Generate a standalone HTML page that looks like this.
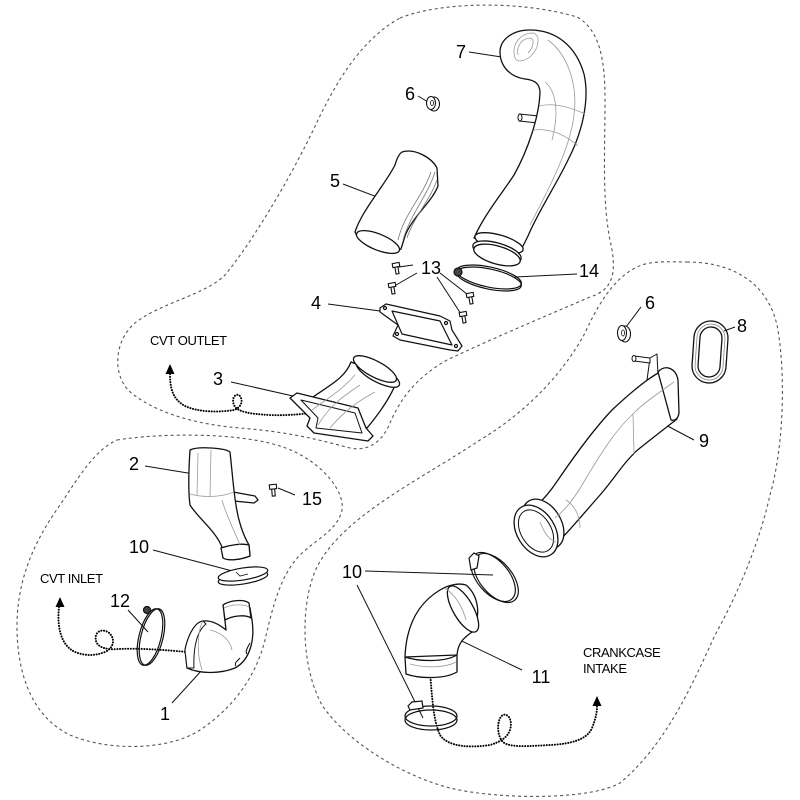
<!DOCTYPE html>
<html><head><meta charset="utf-8"><style>
html,body{margin:0;padding:0;background:#fff;}
svg{display:block;}
text{font-family:"Liberation Sans",Arial,sans-serif;fill:#000;}
.n{font-size:18px;text-anchor:middle;}
.t{font-size:13px;letter-spacing:-0.4px;}
</style></head><body>
<svg width="800" height="800" viewBox="0 0 800 800" xmlns="http://www.w3.org/2000/svg">
<rect width="800" height="800" fill="#fff"/>
<!-- dashed region boundaries -->
<g fill="none" stroke="#555" stroke-width="1.1" stroke-dasharray="3 3">
<path d="M 400 18 C 440 2 520 0 577 17 C 600 30 605 60 605 100 C 605 150 602 200 610 240 C 618 275 612 290 590 297 C 560 310 500 335 447 360 C 415 378 400 400 390 423 C 383 440 370 452 350 448 C 320 440 290 432 240 428 C 190 424 150 410 128 390 C 112 372 115 340 135 323 C 160 303 205 295 225 275 C 250 245 290 180 318 120 C 335 85 360 40 400 18 Z"/>
<path d="M 117 440 C 160 433 240 432 283 447 C 320 460 345 490 342 510 C 338 530 315 540 300 555 C 280 575 272 610 265 640 C 255 680 230 710 200 730 C 170 750 110 752 70 735 C 35 718 18 680 17 630 C 16 580 35 540 60 505 C 80 475 95 450 117 440 Z"/>
<path d="M 687 262 C 735 262 770 285 778 330 C 786 380 783 450 770 495 C 760 540 740 590 715 635 C 690 690 665 745 620 783 C 590 800 500 800 450 788 C 400 775 345 740 322 705 C 300 665 300 600 318 565 C 345 515 420 480 480 440 C 530 410 565 370 585 333 C 600 300 620 268 650 263 C 665 261 675 262 687 262 Z"/>
</g>

<!-- dotted flow arrows -->
<g fill="none" stroke="#000" stroke-width="2" stroke-dasharray="0.1 2.6" stroke-linecap="round">
<path d="M 170 374 C 170 387 172 399 185 406 C 200 413 222 412 234 410 C 240 408 244 402 240 396 C 236 392 231 398 234 405 C 237 412 250 414 270 415 C 290 416 310 413 322 412"/>
<path d="M 59 607 C 57 625 60 645 75 652 C 85 656 95 656 105 652 C 114 648 116 638 108 632 C 100 628 94 633 96 641 C 98 648 108 650 118 649 C 140 648 165 650 187 652"/>
<path d="M 430 672 C 432 695 433 720 440 735 C 448 747 470 748 490 745 C 500 742 507 738 510 730 C 513 720 508 713 503 715 C 497 718 496 735 503 742 C 510 748 530 746 550 745 C 570 744 587 740 592 728 C 596 718 597 712 597 706"/>
</g>
<g fill="#000">
<polygon points="170,364 165.5,374 174.5,374"/>
<polygon points="60,597 55.5,607 64.5,607"/>
<polygon points="597,696 592.5,706 601.5,706"/>
</g>

<!-- leader lines -->
<g stroke="#111" stroke-width="1" fill="none">
<line x1="469" y1="52" x2="508" y2="58"/>
<line x1="418" y1="96" x2="428" y2="102"/>
<line x1="343" y1="184" x2="385" y2="200"/>
<line x1="413" y1="265" x2="399" y2="267"/>
<line x1="417" y1="273" x2="396" y2="285"/>
<line x1="440" y1="273" x2="467" y2="294"/>
<line x1="437" y1="277" x2="461" y2="314"/>
<line x1="577" y1="274" x2="515" y2="277"/>
<line x1="328" y1="304" x2="380" y2="311"/>
<line x1="231" y1="382" x2="293" y2="396"/>
<line x1="145" y1="466" x2="200" y2="475"/>
<line x1="278" y1="488" x2="295" y2="495"/>
<line x1="153" y1="550" x2="240" y2="573"/>
<line x1="128" y1="610" x2="148" y2="632"/>
<line x1="172" y1="703" x2="202" y2="670"/>
<line x1="641" y1="307" x2="626" y2="327"/>
<line x1="735" y1="327" x2="724" y2="331"/>
<line x1="660" y1="422" x2="694" y2="440"/>
<line x1="365" y1="571" x2="493" y2="575"/>
<line x1="357" y1="585" x2="423" y2="718"/>
<line x1="443" y1="632" x2="522" y2="670"/>
</g>

<!-- PART 7 -->
<g fill="#fff" stroke="#111" stroke-width="1.3" stroke-linejoin="round">
<path d="M 519 114 L 539 116 L 538 123 L 519 121 Z" stroke-width="1"/>
<ellipse cx="520" cy="117.5" rx="2" ry="3.5" stroke-width="1"/>
<path d="M 500 52 C 500 40 512 30 530 30 C 556 30 576 46 584 74 C 590 100 582 133 568 160 C 556 185 538 212 528 236 L 522 248 L 474 238 C 484 215 503 192 514 175 C 528 150 539 117 540 93 C 540 83 534 80 525 79 C 510 77 500 66 500 52 Z"/>
<ellipse cx="499" cy="243" rx="25" ry="8" transform="rotate(16 499 243)"/>
<ellipse cx="497" cy="252" rx="25" ry="9" transform="rotate(16 497 252)"/>
<ellipse cx="497" cy="255" rx="24" ry="9" transform="rotate(16 497 255)"/>
</g>
<g fill="none" stroke="#999" stroke-width="0.8">
<path d="M 515 58 C 511 45 520 33 533 33 C 541 35 539 48 531 56 C 525 61 517 63 515 58 Z"/>
<path d="M 518 55 C 516 46 522 38 531 38 C 535 40 533 48 528 53"/>
<path d="M 539 106 C 555 102 572 108 585 114"/>
<path d="M 534 130 C 550 128 566 135 578 146"/>
<path d="M 548 40 C 568 55 578 85 574 115 C 570 150 548 190 530 225"/>
<path d="M 545 82 C 555 90 560 110 552 140"/>
</g>

<!-- PART 6 top -->
<g stroke="#111" stroke-width="1.1" fill="#fff">
<ellipse cx="434" cy="104" rx="5.5" ry="7"/>
<ellipse cx="431" cy="103" rx="4.5" ry="6.5"/>
<ellipse cx="432" cy="103" rx="1.5" ry="2.5" fill="none" stroke-width="0.8"/>
</g>

<!-- PART 5 -->
<g fill="#fff" stroke="#111" stroke-width="1.3" stroke-linejoin="round">
<path d="M 402 152 C 415 148 432 158 437 168 L 438 186 C 432 202 412 217 405 236 L 401 249 C 385 256 362 248 355 232 C 362 210 385 185 395 165 C 397 158 399 154 402 152 Z"/>
<ellipse cx="378" cy="242" rx="23" ry="8" transform="rotate(22 378 242)"/>
</g>
<g fill="none" stroke="#777" stroke-width="0.8">
<path d="M 435 172 C 428 195 410 215 403 240"/>
<path d="M 431 172 C 423 196 404 214 398 240"/>
<path d="M 437 180 C 430 200 414 217 407 238"/>
</g>

<!-- PART 14 clamp -->
<g fill="none" stroke="#111" stroke-width="1.2">
<ellipse cx="489" cy="277" rx="33" ry="10" transform="rotate(12 489 277)"/>
<ellipse cx="489" cy="279" rx="33" ry="10" transform="rotate(12 489 279)"/>
<circle cx="458" cy="272" r="4" fill="#444"/>
</g>

<!-- 13 bolts -->
<g stroke="#111" stroke-width="1.1" fill="#fff">
<g transform="translate(396 265) rotate(-10)"><rect x="-1.5" y="2" width="3" height="7"/><rect x="-3.5" y="-2" width="7" height="4"/></g>
<g transform="translate(392 285) rotate(-10)"><rect x="-1.5" y="2" width="3" height="7"/><rect x="-3.5" y="-2" width="7" height="4"/></g>
<g transform="translate(470 295) rotate(-10)"><rect x="-1.5" y="2" width="3" height="7"/><rect x="-3.5" y="-2" width="7" height="4"/></g>
<g transform="translate(463 314) rotate(-10)"><rect x="-1.5" y="2" width="3" height="7"/><rect x="-3.5" y="-2" width="7" height="4"/></g>
</g>

<!-- PART 4 gasket -->
<g fill="#fff" stroke="#111" stroke-width="1.2" stroke-linejoin="round">
<path d="M 380 308 L 386 304 L 440 316 L 450 321 L 452 330 L 462 346 L 458 351 L 450 350 L 400 340 L 393 336 L 398 325 L 380 312 Z"/>
<path d="M 392 311 L 440 321 L 452 345 L 402 334 Z"/>
<circle cx="385" cy="308" r="1.5"/>
<circle cx="456" cy="346" r="1.5"/>
<circle cx="446" cy="323" r="1.5"/>
<circle cx="397" cy="334" r="1.5"/>
</g>

<!-- PART 3 -->
<g fill="#fff" stroke="#111" stroke-width="1.3" stroke-linejoin="round">
<path d="M 310 399 C 330 385 345 378 351 362 L 397 380 C 392 395 382 410 367 428 Z"/>
<path d="M 290 398 L 297 393 L 358 408 L 366 428 L 373 436 L 368 441 L 314 433 L 307 426 L 310 418 L 300 408 Z"/>
<path d="M 301 400 L 355 413 L 362 433 L 316 428 L 318 418 Z" stroke-width="1"/>
<ellipse cx="378" cy="374" rx="24" ry="8" transform="rotate(28 378 374)"/>
<ellipse cx="375" cy="369" rx="24" ry="8" transform="rotate(28 375 369)"/>
</g>
<g fill="none" stroke="#999" stroke-width="0.8">
<path d="M 318 425 C 330 405 345 395 360 385"/>
<path d="M 330 428 C 345 410 360 400 375 392"/>
<path d="M 312 410 C 325 400 340 392 355 375"/>
</g>

<!-- PART 2 -->
<g fill="#fff" stroke="#111" stroke-width="1.3" stroke-linejoin="round">
<path d="M 233 492 L 255 496 L 258 500 L 254 503 L 234 501"/>
<path d="M 190 450 C 198 446 225 448 230 452 C 232 470 234 495 236 505 C 238 520 243 535 249 545 L 250 556 C 240 560 228 561 223 558 L 222 547 C 215 530 198 518 190 505 C 188 490 189 465 190 450 Z"/>
<path d="M 221 548 C 230 545 242 543 249 545 L 250 556 C 240 560 228 561 223 558 Z"/>
</g>
<g fill="none" stroke="#999" stroke-width="0.8">
<path d="M 211 450 L 210 497"/>
<path d="M 190 494 C 205 498 222 497 234 492"/>
<path d="M 198 453 L 197 495"/>
<path d="M 222 500 C 226 515 234 530 240 545"/>
</g>

<!-- PART 15 bolt -->
<g stroke="#111" stroke-width="1.1" fill="#fff">
<g transform="translate(273 487) rotate(-5)"><rect x="-1.5" y="2" width="3" height="7"/><rect x="-3.5" y="-2.5" width="7" height="4.5"/></g>
</g>

<!-- PART 10 left -->
<g fill="#fff" stroke="#111" stroke-width="1.2">
<ellipse cx="243" cy="578" rx="25" ry="6" transform="rotate(-9 243 578)"/>
<ellipse cx="243" cy="574" rx="25" ry="6" transform="rotate(-9 243 574)"/>
<path d="M 236 572 L 240 576 L 248 574" fill="none" stroke-width="0.8"/>
</g>

<!-- PART 12 clamp -->
<g fill="none" stroke="#111" stroke-width="1.2">
<ellipse cx="150" cy="637" rx="11" ry="29" transform="rotate(14 150 637)"/>
<ellipse cx="152" cy="637" rx="11" ry="29" transform="rotate(14 152 637)"/>
<circle cx="147" cy="610" r="3.5" fill="#444"/>
</g>

<!-- PART 1 elbow -->
<g fill="#fff" stroke="#111" stroke-width="1.3" stroke-linejoin="round">
<path d="M 185 650 C 188 635 195 622 203 621 C 212 620 220 625 226 630 L 224 612 C 232 605 245 604 250 608 L 252 620 C 255 640 250 660 235 668 C 220 674 200 674 187 668 Z"/>
<path d="M 223 605 C 230 600 244 599 249 603 L 251 618 C 245 614 232 616 225 620 Z"/>
<path d="M 185 650 C 188 635 195 622 203 621 L 206 624 C 198 630 193 645 194 668 L 187 668 Z" stroke-width="1"/>
</g>
<g fill="none" stroke="#999" stroke-width="0.8">
<path d="M 202 622 C 197 635 197 655 202 670"/>
<path d="M 210 630 C 222 633 230 640 232 650"/>
<path d="M 224 608 C 232 604 244 604 249 607"/>
</g>
<g fill="none" stroke="#111" stroke-width="1">
<path d="M 250 643 C 247 648 245 652 247 654"/>
<path d="M 240 658 C 236 662 234 664 236 666"/>
</g>

<!-- PART 6 right -->
<g stroke="#111" stroke-width="1.1" fill="#fff">
<ellipse cx="625" cy="334" rx="5.5" ry="8"/>
<ellipse cx="622" cy="333" rx="4.5" ry="7.5"/>
<ellipse cx="623" cy="333" rx="1.5" ry="3" fill="none" stroke-width="0.8"/>
</g>

<!-- PART 8 oval seal -->
<g fill="none" stroke="#111" stroke-width="1.3">
<rect x="693" y="321" width="34" height="62" rx="17" ry="17" transform="rotate(4 710 352)"/>
<rect x="699" y="327" width="22" height="50" rx="11" ry="11" transform="rotate(4 710 352)"/>
<rect x="696" y="324" width="28" height="56" rx="14" ry="14" transform="rotate(4 710 352)" stroke="#888" stroke-width="0.8"/>
</g>

<!-- PART 9 duct -->
<g fill="#fff" stroke="#111" stroke-width="1.3" stroke-linejoin="round">
<path d="M 647 380 L 650 358 L 657 354 L 658 376 Z" stroke-width="1"/>
<path d="M 634 356 L 650 358 L 650 363 L 634 361 Z" stroke-width="1"/>
<ellipse cx="634" cy="358.5" rx="2" ry="3" stroke-width="1"/>
<path d="M 660 372 C 645 380 628 395 612 410 C 595 428 575 455 558 480 C 550 492 543 500 536 506 L 560 540 C 570 530 585 512 600 495 C 615 478 625 460 640 448 C 655 436 668 426 677 419 Z"/>
<path d="M 658 372 C 665 364 676 368 678 380 L 679 413 C 678 419 675 421 671 420 Z"/>
<ellipse cx="543" cy="524" rx="18" ry="27" transform="rotate(-32 543 524)"/>
<ellipse cx="536" cy="531" rx="19" ry="28" transform="rotate(-32 536 531)"/>
<ellipse cx="536" cy="531" rx="15" ry="23" transform="rotate(-32 536 531)" stroke-width="1"/>
</g>
<g fill="none" stroke="#999" stroke-width="0.8">
<path d="M 674 382 C 660 392 645 402 635 412 C 615 430 600 455 585 480 C 575 498 565 510 555 518"/>
<path d="M 633 414 L 634 454"/>
<path d="M 540 522 C 545 535 550 540 556 542"/>
<path d="M 566 500 C 574 505 580 515 580 528"/>
</g>

<!-- PART 10 right clamp -->
<g fill="none" stroke="#111" stroke-width="1.2">
<ellipse cx="493" cy="577" rx="16" ry="29" transform="rotate(-40 493 577)"/>
<ellipse cx="496" cy="578" rx="16" ry="29" transform="rotate(-40 496 578)"/>
<path d="M 469 558 L 474 553 L 479 556 L 477 568 L 471 570 Z" fill="#fff"/>
</g>

<!-- PART 11 elbow -->
<g fill="#fff" stroke="#111" stroke-width="1.3" stroke-linejoin="round">
<path d="M 405 657 C 406 630 415 605 440 590 C 450 584 460 583 466 585 C 478 595 482 615 472 632 C 465 637 458 642 457 655 Z"/>
<ellipse cx="463" cy="609" rx="10" ry="26" transform="rotate(-30 463 609)"/>
<path d="M 405 657 C 420 662 445 662 457 655 L 457 672 C 445 679 420 679 406 674 Z"/>
</g>
<g fill="none" stroke="#999" stroke-width="0.8">
<path d="M 410 664 C 425 668 445 668 456 662"/>
<path d="M 445 588 C 455 595 462 605 466 620"/>
</g>

<!-- PART 10 lower clamp -->
<g fill="none" stroke="#111" stroke-width="1.2">
<ellipse cx="431" cy="716" rx="26" ry="10"/>
<ellipse cx="431" cy="720" rx="26" ry="10"/>
<path d="M 408 706 L 412 702 L 422 701 L 423 708 L 410 710 Z" fill="#fff"/>
</g>

<!-- labels -->
<text class="n" x="461" y="58">7</text>
<text class="n" x="410" y="100">6</text>
<text class="n" x="335" y="187">5</text>
<text class="n" x="431" y="274">13</text>
<text class="n" x="589" y="277">14</text>
<text class="n" x="316" y="309">4</text>
<text class="n" x="218" y="385">3</text>
<text class="n" x="134" y="470">2</text>
<text class="n" x="312" y="505">15</text>
<text class="n" x="139" y="553">10</text>
<text class="n" x="120" y="607">12</text>
<text class="n" x="165" y="720">1</text>
<text class="n" x="650" y="309">6</text>
<text class="n" x="742" y="332">8</text>
<text class="n" x="704" y="447">9</text>
<text class="n" x="352" y="578">10</text>
<text class="n" x="541" y="683">11</text>

<text class="t" x="150" y="345">CVT OUTLET</text>
<text class="t" x="40" y="583">CVT INLET</text>
<text class="t" x="583" y="657">CRANKCASE</text>
<text class="t" x="583" y="673">INTAKE</text>
</svg>
</body></html>
